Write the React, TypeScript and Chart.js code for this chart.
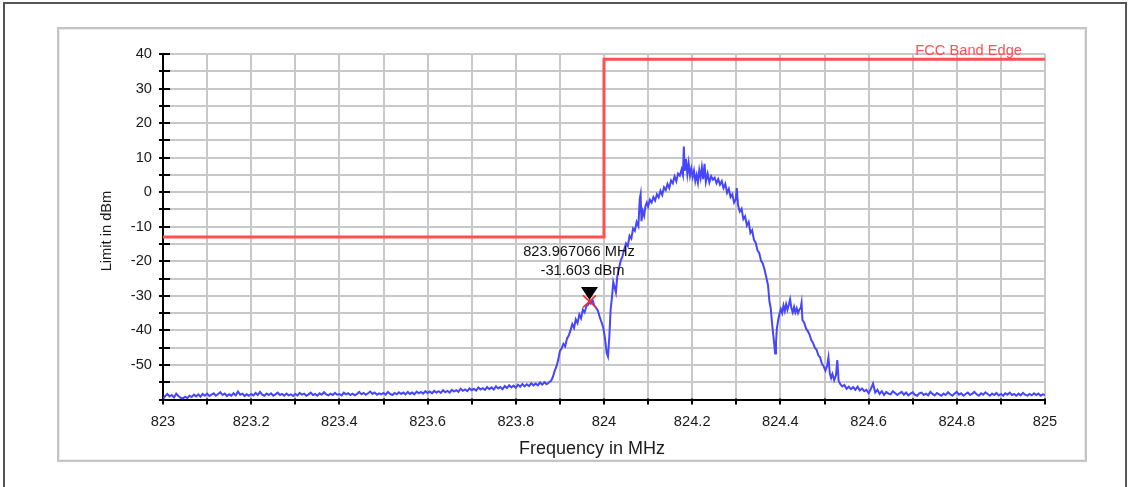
import React, { useEffect, useRef } from "react";
import { Chart, registerables } from "chart.js";

Chart.register(...registerables);

const FONT = "'Liberation Sans', Arial, sans-serif";
const FS = 14.67;

// ---- data ----
const xMin = 823;
const xMax = 825;
const yMin = -60;
const yMax = 40;
const xStep = 0.1;
const yStep = 5;

const limitFreq = [823, 824, 824, 825];
const limitLevel = [-13, -13, 38.45, 38.45];
const limitLabel = "FCC Band Edge";

const markerFreq = 823.967066;
const markerLevel = -31.603;
const markerText = ["823.967066 MHz", "-31.603 dBm"];

const xTitle = "Frequency in MHz";
const yTitle = "Limit in dBm";

// measured trace, lower band edge noise floor [MHz, dBm]
const traceLow: [number, number][] = [
  [823.0, -59.8], [823.005, -59.0], [823.01, -58.4], [823.015, -59.1], [823.02, -58.7],
  [823.025, -59.4], [823.03, -58.3], [823.035, -59.0], [823.04, -59.5], [823.045, -59.7],
  [823.05, -59.2], [823.055, -59.6], [823.06, -58.9], [823.065, -59.3], [823.07, -58.6],
  [823.075, -59.1], [823.08, -58.5], [823.085, -59.2], [823.09, -58.4], [823.095, -58.9],
  [823.1, -58.3], [823.105, -59.0], [823.11, -58.6], [823.115, -58.2], [823.12, -58.9],
  [823.125, -58.4], [823.13, -57.9], [823.135, -58.7], [823.14, -58.3], [823.145, -59.0],
  [823.15, -58.5], [823.155, -58.9], [823.16, -58.2], [823.165, -58.8], [823.17, -57.7],
  [823.175, -58.6], [823.18, -58.3], [823.185, -59.0], [823.19, -58.5], [823.195, -58.9],
  [823.2, -58.4], [823.205, -58.8], [823.21, -58.1], [823.215, -58.7], [823.22, -57.8],
  [823.225, -58.6], [823.23, -58.9], [823.235, -58.3], [823.24, -58.7], [823.245, -58.2],
  [823.25, -58.9], [823.255, -58.5], [823.26, -58.0], [823.265, -58.7], [823.27, -58.4],
  [823.275, -58.9], [823.28, -58.3], [823.285, -58.8], [823.29, -58.5], [823.295, -59.0],
  [823.3, -58.4], [823.305, -58.8], [823.31, -58.1], [823.315, -58.6], [823.32, -58.3],
  [823.325, -58.9], [823.33, -58.5], [823.335, -58.0], [823.34, -58.7], [823.345, -58.4],
  [823.35, -58.9], [823.355, -58.2], [823.36, -58.6], [823.365, -57.9], [823.37, -58.5],
  [823.375, -58.8], [823.38, -58.3], [823.385, -58.7], [823.39, -58.1], [823.395, -58.6],
  [823.4, -58.4], [823.405, -58.8], [823.41, -58.0], [823.415, -58.5], [823.42, -58.2],
  [823.425, -58.7], [823.43, -58.3], [823.435, -58.8], [823.44, -58.4], [823.445, -57.8],
  [823.45, -58.5], [823.455, -58.1], [823.46, -58.6], [823.465, -58.2], [823.47, -57.7],
  [823.475, -58.4], [823.48, -58.0], [823.485, -58.6], [823.49, -58.2], [823.495, -58.5],
  [823.5, -58.1], [823.505, -58.6], [823.51, -57.8], [823.515, -58.4], [823.52, -58.7],
  [823.525, -58.1], [823.53, -58.5], [823.535, -57.9], [823.54, -58.4], [823.545, -58.0],
  [823.55, -58.5], [823.555, -57.8], [823.56, -58.4], [823.565, -58.0], [823.57, -58.5],
  [823.575, -57.7], [823.58, -58.2], [823.585, -57.8], [823.59, -58.3], [823.595, -57.6],
  [823.6, -58.1], [823.605, -57.7], [823.61, -58.2], [823.615, -57.5], [823.62, -58.0],
  [823.625, -57.6], [823.63, -58.1], [823.635, -57.3], [823.64, -57.9], [823.645, -57.5],
  [823.65, -58.0], [823.655, -57.2], [823.66, -57.7], [823.665, -57.3], [823.67, -57.8],
  [823.675, -56.9], [823.68, -57.5], [823.685, -57.1], [823.69, -57.6], [823.695, -56.8],
  [823.7, -57.3], [823.705, -56.9], [823.71, -57.4], [823.715, -56.5], [823.72, -57.1],
  [823.725, -56.7], [823.73, -57.2], [823.735, -56.4], [823.74, -57.0], [823.745, -56.5],
  [823.75, -57.1], [823.755, -56.2], [823.76, -56.8], [823.765, -56.4], [823.77, -57.0],
  [823.775, -56.1], [823.78, -56.7], [823.785, -55.9], [823.79, -56.5], [823.795, -56.0],
  [823.8, -56.6], [823.805, -55.7], [823.81, -56.3], [823.815, -55.5], [823.82, -56.2],
  [823.825, -55.6], [823.83, -56.1], [823.835, -55.3], [823.84, -55.9], [823.845, -55.4],
  [823.85, -55.9], [823.855, -55.1], [823.86, -55.7], [823.865, -55.0], [823.87, -55.6],
  [823.875, -55.1], [823.88, -54.6],
];

// measured trace, emission [MHz, dBm]
const traceSignal: [number, number][] = [
  [823.884, -53.5], [823.888, -51.8], [823.892, -50.5], [823.896, -48.6], [823.9, -46.0],
  [823.904, -45.2], [823.908, -43.9], [823.912, -44.6], [823.916, -42.4], [823.92, -41.5],
  [823.924, -40.0], [823.928, -38.2], [823.932, -39.3], [823.936, -36.8], [823.94, -37.9],
  [823.944, -35.4], [823.948, -36.5], [823.952, -34.0], [823.956, -34.8], [823.96, -33.0],
  [823.964, -32.6], [823.967066, -31.603], [823.97, -32.2], [823.974, -31.2], [823.978, -32.8],
  [823.982, -33.5], [823.986, -34.2], [823.99, -36.0], [823.994, -37.5], [823.998, -39.0],
  [824.002, -42.0], [824.006, -46.5], [824.009, -47.6], [824.012, -42.0], [824.015, -34.0],
  [824.018, -30.5], [824.021, -26.0], [824.024, -27.5], [824.027, -29.0], [824.03, -24.5],
  [824.034, -22.0], [824.038, -19.8], [824.042, -18.5], [824.046, -16.5], [824.05, -14.8],
  [824.054, -15.6], [824.058, -12.6], [824.062, -13.4], [824.066, -10.5], [824.07, -11.2],
  [824.074, -8.6], [824.078, -9.8], [824.081, -2.0], [824.083, -0.6], [824.085, -8.4],
  [824.088, -5.5], [824.091, -6.8], [824.094, -4.0], [824.097, -3.0], [824.1, -4.2],
  [824.104, -2.2], [824.108, -3.0], [824.112, -1.4], [824.116, -2.4], [824.12, -0.6],
  [824.124, -1.5], [824.128, 0.4], [824.132, -0.8], [824.136, 1.4], [824.14, 0.6],
  [824.144, 2.4], [824.148, 1.2], [824.152, 3.4], [824.156, 2.6], [824.16, 4.6],
  [824.164, 3.2], [824.168, 5.4], [824.172, 4.8], [824.176, 6.6], [824.179, 5.0],
  [824.181, 13.2], [824.183, 6.2], [824.186, 9.6], [824.189, 5.2], [824.192, 8.4],
  [824.195, 4.8], [824.198, 6.8], [824.201, 4.4], [824.204, 6.2], [824.207, 3.2],
  [824.21, 5.0], [824.213, 2.8], [824.216, 6.4], [824.219, 4.2], [824.222, 7.2],
  [824.225, 3.8], [824.228, 8.2], [824.231, 3.0], [824.235, 5.4], [824.239, 2.8],
  [824.243, 4.6], [824.247, 3.6], [824.251, 4.2], [824.255, 2.6], [824.259, 3.8],
  [824.263, 2.2], [824.267, 3.2], [824.271, 1.2], [824.275, 2.4], [824.279, -0.2],
  [824.283, 1.0], [824.287, -1.4], [824.291, -0.6], [824.295, -3.0], [824.299, -2.0],
  [824.301, 1.2], [824.304, -3.8], [824.308, -5.6], [824.312, -4.8], [824.316, -7.8],
  [824.32, -7.0], [824.324, -9.6], [824.328, -8.6], [824.332, -11.8], [824.336, -11.0],
  [824.34, -13.8], [824.344, -14.6], [824.348, -16.8], [824.352, -17.6], [824.356, -19.8],
  [824.36, -20.6], [824.364, -22.4], [824.368, -24.6], [824.372, -27.0], [824.375, -31.5],
  [824.378, -33.5], [824.381, -37.8], [824.384, -41.5], [824.386, -44.0], [824.388, -46.7],
  [824.39, -43.5], [824.392, -39.5], [824.395, -37.0], [824.398, -35.2], [824.401, -33.8],
  [824.404, -35.0], [824.407, -32.8], [824.41, -34.4], [824.413, -32.4], [824.416, -34.0],
  [824.419, -32.6], [824.422, -31.0], [824.425, -33.6], [824.428, -34.8], [824.431, -33.2],
  [824.434, -34.8], [824.437, -33.6], [824.44, -35.0], [824.443, -34.0], [824.446, -33.5],
  [824.448, -32.0], [824.45, -37.0], [824.454, -37.8], [824.458, -39.4], [824.462, -40.2],
  [824.466, -41.2], [824.47, -42.8], [824.474, -43.6], [824.478, -45.0], [824.482, -45.6],
  [824.486, -47.2], [824.49, -47.8], [824.494, -49.6], [824.498, -50.4], [824.502, -51.6],
  [824.506, -50.2], [824.509, -47.8], [824.512, -52.4], [824.515, -53.8], [824.518, -52.6],
  [824.522, -54.4], [824.526, -53.0], [824.529, -48.6], [824.532, -54.6], [824.536, -55.6],
  [824.54, -56.2], [824.545, -55.8], [824.55, -56.9],
];

// measured trace, upper noise floor [MHz, dBm]
const traceHigh: [number, number][] = [
  [824.555, -56.3], [824.56, -57.0], [824.565, -56.4], [824.57, -57.2], [824.575, -56.3],
  [824.58, -57.4], [824.585, -56.8], [824.59, -57.6], [824.595, -57.2], [824.6, -58.2],
  [824.605, -57.0], [824.61, -55.4], [824.615, -58.0], [824.62, -57.2], [824.625, -58.4],
  [824.63, -57.6], [824.635, -58.7], [824.64, -57.8], [824.645, -58.3], [824.65, -58.5],
  [824.655, -57.6], [824.66, -58.1], [824.665, -58.7], [824.67, -58.2], [824.675, -57.8],
  [824.68, -58.6], [824.685, -58.0], [824.69, -58.8], [824.695, -58.3], [824.7, -57.9],
  [824.705, -58.6], [824.71, -58.9], [824.715, -58.2], [824.72, -58.0], [824.725, -58.7],
  [824.73, -58.3], [824.735, -58.8], [824.74, -57.8], [824.745, -58.4], [824.75, -58.8],
  [824.755, -58.1], [824.76, -58.5], [824.765, -58.9], [824.77, -58.3], [824.775, -58.7],
  [824.78, -57.9], [824.785, -58.5], [824.79, -58.9], [824.795, -58.3], [824.8, -57.8],
  [824.805, -58.6], [824.81, -58.2], [824.815, -58.9], [824.82, -58.4], [824.825, -58.0],
  [824.83, -58.7], [824.835, -58.3], [824.84, -57.8], [824.845, -58.5], [824.85, -58.9],
  [824.855, -58.2], [824.86, -58.6], [824.865, -57.9], [824.87, -58.4], [824.875, -58.9],
  [824.88, -58.3], [824.885, -58.7], [824.89, -58.1], [824.895, -58.8], [824.9, -58.4],
  [824.905, -58.9], [824.91, -58.2], [824.915, -58.6], [824.92, -58.0], [824.925, -58.7],
  [824.93, -58.4], [824.935, -58.9], [824.94, -58.3], [824.945, -58.8], [824.95, -58.1],
  [824.955, -58.6], [824.96, -58.9], [824.965, -58.4], [824.97, -58.8], [824.975, -58.2],
  [824.98, -58.7], [824.985, -58.3], [824.99, -58.9], [824.995, -58.5], [825.0, -58.7],
];

const W = 1129;
const H = 487;

const decor = {
  id: "decor",
  beforeDraw(chart: any) {
    const ctx = chart.ctx;
    ctx.save();
    ctx.fillStyle = "#ffffff";
    ctx.fillRect(0, 0, chart.width, chart.height);
    ctx.strokeStyle = "#555555";
    ctx.lineWidth = 2;
    ctx.strokeRect(4, 3, 1122, 510);
    ctx.strokeStyle = "#c4c4c4";
    ctx.lineWidth = 2;
    ctx.strokeRect(58, 28, 1028, 433);
    ctx.strokeStyle = "#ececec";
    ctx.lineWidth = 1;
    ctx.strokeRect(59.5, 29.5, 1025, 430);
    ctx.restore();
  },
  afterDraw(chart: any) {
    const ctx = chart.ctx;
    const xs = chart.scales.x;
    const ys = chart.scales.y;
    const area = chart.chartArea;
    ctx.save();
    ctx.strokeStyle = "#000";
    ctx.lineWidth = 2;
    for (let i = 0; i <= Math.round((yMax - yMin) / yStep); i++) {
      const v = yMin + i * yStep;
      const py = Math.round(ys.getPixelForValue(v));
      ctx.beginPath();
      ctx.moveTo(area.left - 4, py);
      ctx.lineTo(area.left + 7, py);
      ctx.stroke();
    }
    for (let i = 0; i <= Math.round((xMax - xMin) / xStep); i++) {
      const v = xMin + i * xStep;
      const px = Math.round(xs.getPixelForValue(v));
      ctx.beginPath();
      ctx.moveTo(px, area.bottom - 1);
      ctx.lineTo(px, area.bottom + 5);
      ctx.stroke();
    }
    ctx.fillStyle = "#1a1a1a";
    ctx.font = `18px ${FONT}`;
    ctx.textAlign = "center";
    ctx.textBaseline = "middle";
    ctx.fillText(xTitle, 592, 449);
    ctx.save();
    ctx.translate(107, 231);
    ctx.rotate(-Math.PI / 2);
    ctx.font = `${FS}px ${FONT}`;
    ctx.fillText(yTitle, 0, 0);
    ctx.restore();
    ctx.fillStyle = "rgb(255,80,80)";
    ctx.font = `${FS}px ${FONT}`;
    ctx.textAlign = "right";
    ctx.fillText(limitLabel, 1022, 51);
    const mx = xs.getPixelForValue(markerFreq);
    const my = ys.getPixelForValue(markerLevel);
    ctx.fillStyle = "#000";
    ctx.beginPath();
    ctx.moveTo(mx - 8.5, my - 14.5);
    ctx.lineTo(mx + 8.5, my - 14.5);
    ctx.lineTo(mx, my - 1.5);
    ctx.closePath();
    ctx.fill();
    ctx.strokeStyle = "rgb(255,40,40)";
    ctx.lineWidth = 1.5;
    ctx.beginPath();
    ctx.moveTo(mx - 6.5, my - 6);
    ctx.lineTo(mx + 6.5, my + 6);
    ctx.moveTo(mx + 6.5, my - 6);
    ctx.lineTo(mx - 6.5, my + 6);
    ctx.stroke();
    ctx.fillStyle = "#111";
    ctx.font = `${FS}px ${FONT}`;
    ctx.textAlign = "center";
    ctx.fillText(markerText[0], mx - 10.5, my - 49.5);
    ctx.fillText(markerText[1], mx - 7, my - 30.5);
    ctx.restore();
  },
};

export default function App() {
  const ref = useRef<HTMLCanvasElement | null>(null);
  useEffect(() => {
    if (!ref.current) return;
    const trace = [...traceLow, ...traceSignal, ...traceHigh];
    const chart = new Chart(ref.current, {
      type: "line",
      data: {
        datasets: [
          {
            label: "trace",
            data: trace.map(([x, y]) => ({ x, y })),
            borderColor: "rgb(70,70,255)",
            borderWidth: 2,
            pointRadius: 0,
            tension: 0,
          },
          {
            label: "limit",
            data: limitFreq.map((x, i) => ({ x, y: limitLevel[i] })),
            borderColor: "rgb(255,80,80)",
            borderWidth: 3,
            pointRadius: 0,
            tension: 0,
          },
        ],
      },
      options: {
        responsive: false,
        animation: false,
        events: [],
        layout: { padding: { top: 54, right: 84, left: 0, bottom: 0 } },
        plugins: { legend: { display: false }, tooltip: { enabled: false } },
        scales: {
          x: {
            type: "linear",
            min: xMin,
            max: xMax,
            afterFit: (s: any) => {
              s.height = 87.5;
            },
            ticks: {
              stepSize: xStep,
              autoSkip: false,
              maxRotation: 0,
              padding: 14,
              color: "#1a1a1a",
              font: { family: FONT, size: FS },
              callback: (v: any) => {
                const k = Math.round((Number(v) - xMin) / xStep);
                return k % 2 === 0 ? String(parseFloat(Number(v).toFixed(1))) : "";
              },
            },
            grid: { color: "#c8c8c8", lineWidth: 2, drawTicks: false },
            border: { display: true, color: "#000", width: 2 },
          },
          y: {
            min: yMin,
            max: yMax,
            afterFit: (s: any) => {
              s.width = 163;
            },
            ticks: {
              stepSize: yStep,
              autoSkip: false,
              padding: 11,
              color: "#1a1a1a",
              font: { family: FONT, size: FS },
              callback: (v: any) => {
                const n = Math.round(Number(v));
                return n % 10 === 0 && n !== yMin ? String(n) : "";
              },
            },
            grid: { color: "#c8c8c8", lineWidth: 2, drawTicks: false },
            border: { display: true, color: "#000", width: 2 },
          },
        },
      },
      plugins: [decor],
    });
    return () => chart.destroy();
  }, []);
  return (
    <div style={{ position: "fixed", left: 0, top: 0, width: W, height: H, background: "#fff" }}>
      <canvas ref={ref} width={W} height={H} style={{ display: "block", width: W, height: H }} />
    </div>
  );
}
